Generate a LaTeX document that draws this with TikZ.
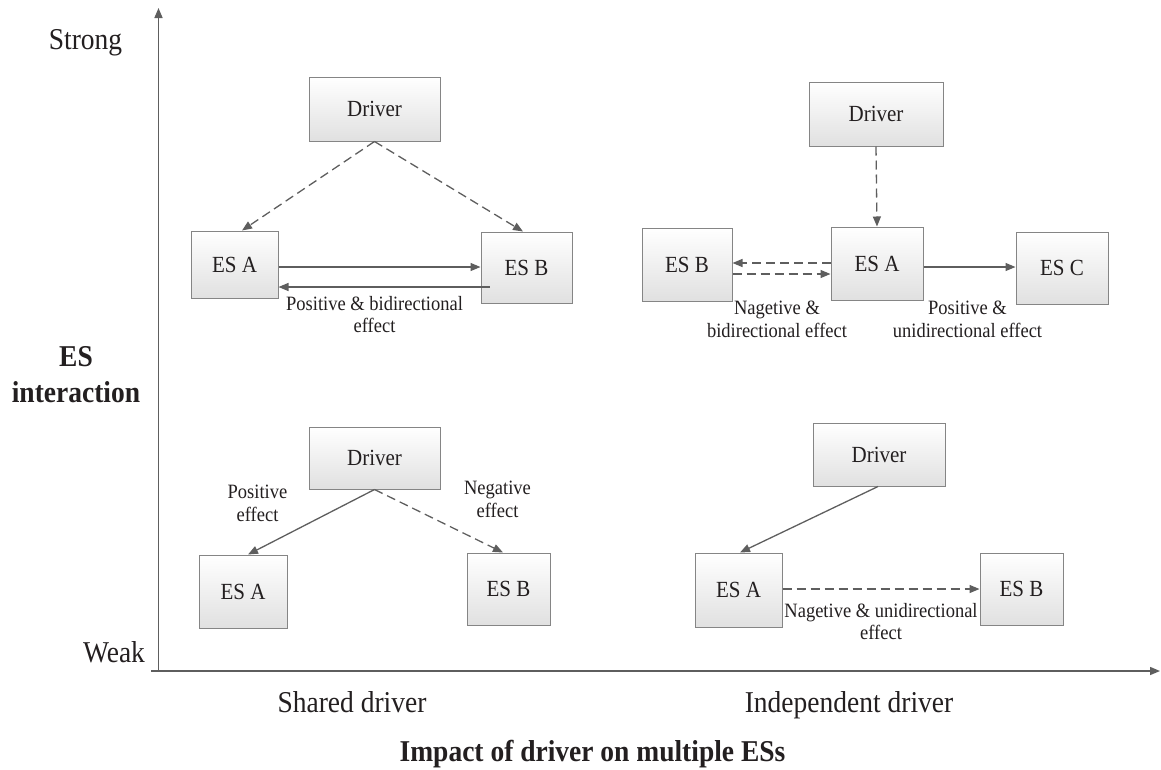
\documentclass[tikz,border=0pt]{standalone}
\usepackage{graphicx}
\usepackage{fontspec}
\setmainfont{Liberation Serif}
\usetikzlibrary{arrows.meta,calc}
\definecolor{linegray}{HTML}{5E5E5E}
\definecolor{boxborder}{HTML}{858585}
\definecolor{txt}{HTML}{231F20}
\newcommand{\talltext}[1]{\scalebox{1}[1.1]{#1}}
\begin{document}
\begin{tikzpicture}[x=1pt,y=-1pt,
  esbox/.style={draw=boxborder, line width=1pt, top color=white, bottom color=black!12,
    inner sep=0pt, font=\fontsize{21}{25}\selectfont, text=txt},
  conn/.style={draw=linegray, line width=1.3pt, -{Triangle[length=10pt,width=8pt]}},
  dconn/.style={conn, dash pattern=on 9pt off 5pt},
  lbl/.style={font=\fontsize{18.5}{20.5}\selectfont, align=center, inner sep=0pt, anchor=north,
    text=txt, yscale=1.1, transform shape},
  axlbl/.style={font=\fontsize{27.5}{33}\selectfont, inner sep=0pt, anchor=base, text=txt,
    yscale=1.1, transform shape},
  axbold/.style={font={\bfseries\fontsize{27.5}{32.7}\selectfont}, inner sep=0pt, text=txt,
    yscale=1.1, transform shape},
]
\useasboundingbox (0,0) rectangle (1161,769);

% axes
\coordinate (O) at (158.5,671);
\coordinate (ytop) at (158.5,8);
\coordinate (xstart) at (151,671);
\coordinate (xend) at (1160,671);
\draw[conn, line width=1.5pt] (O) -- (ytop);
\draw[conn, line width=1.5pt] (xstart) -- (xend);

% axis labels
\node[axlbl] (strong) at (85.5,49) {Strong};
\node[axlbl] (weak) at (114,662) {Weak};
\node[axbold, align=center, anchor=north] (esint) at (76,346) {ES\\interaction};
\node[axlbl] (shared) at (352,712) {Shared driver};
\node[axlbl] (indep) at (849,712) {Independent driver};
\node[axbold, anchor=base] (impact) at (592.5,761) {Impact of driver on multiple ESs};

% top-left panel
\node[esbox, minimum width=131pt, minimum height=64pt] (d1) at (374.5,109) {\talltext{Driver}};
\node[esbox, minimum width=87pt, minimum height=67pt] (a1) at (234.5,264.5) {\talltext{ES A}};
\node[esbox, minimum width=91pt, minimum height=71pt] (b1) at (526.5,267.5) {\talltext{ES B}};
\draw[dconn] (d1.south) -- ($(a1.north)+(7.5,0)$);
\draw[dconn] (d1.south) -- ($(b1.north)+(-3.5,0)$);
\draw[conn] ($(a1.east)+(0,2.5)$) -- ($(b1.west)+(0,-0.5)$);
\draw[conn] ($(b1.west)+(9,19.5)$) -- ($(a1.east)+(0,22.5)$);
\node[lbl] (l1) at (374.5,296) {Positive \& bidirectional\\effect};

% top-right panel
\node[esbox, minimum width=134pt, minimum height=64pt] (d2) at (876,114) {\talltext{Driver}};
\node[esbox, minimum width=92pt, minimum height=73pt] (a2) at (877,263.5) {\talltext{ES A}};
\node[esbox, minimum width=90pt, minimum height=73pt] (b2) at (687,264.5) {\talltext{ES B}};
\node[esbox, minimum width=92pt, minimum height=72pt] (c2) at (1062,268) {\talltext{ES C}};
\draw[dconn] (d2.south) -- (a2.north);
\draw[dconn] ($(a2.west)+(0,-0.5)$) -- ($(b2.east)+(0,-1.5)$);
\draw[dconn] ($(b2.east)+(0,9.5)$) -- ($(a2.west)+(0,10.5)$);
\draw[conn] ($(a2.east)+(0,3.5)$) -- ($(c2.west)+(0,-1)$);
\node[lbl] (l2) at (777,301) {Nagetive \&\\bidirectional effect};
\node[lbl] (l3) at (967.5,301) {Positive \&\\unidirectional effect};

% bottom-left panel
\node[esbox, minimum width=131pt, minimum height=62pt] (d3) at (374.5,458) {\talltext{Driver}};
\node[esbox, minimum width=88pt, minimum height=73pt] (a3) at (243,591.5) {\talltext{ES A}};
\node[esbox, minimum width=83pt, minimum height=72pt] (b3) at (508.5,589) {\talltext{ES B}};
\draw[conn] (d3.south) -- ($(a3.north)+(5,0)$);
\draw[dconn] (d3.south) -- ($(b3.north)+(-5.5,0)$);
\node[lbl] (l4) at (257.5,485) {Positive\\effect};
\node[lbl] (l5) at (497.5,481) {Negative\\effect};

% bottom-right panel
\node[esbox, minimum width=132pt, minimum height=63pt] (d4) at (879,454.5) {\talltext{Driver}};
\node[esbox, minimum width=87pt, minimum height=74pt] (a4) at (738.5,590) {\talltext{ES A}};
\node[esbox, minimum width=83pt, minimum height=72pt] (b4) at (1021.5,589) {\talltext{ES B}};
\draw[conn] ($(d4.south)+(-1,0)$) -- ($(a4.north)+(1.5,0)$);
\draw[dconn] ($(a4.east)+(0,-1)$) -- (b4.west);
\node[lbl] (l6) at (881,603) {Nagetive \& unidirectional\\effect};
\end{tikzpicture}
\end{document}
